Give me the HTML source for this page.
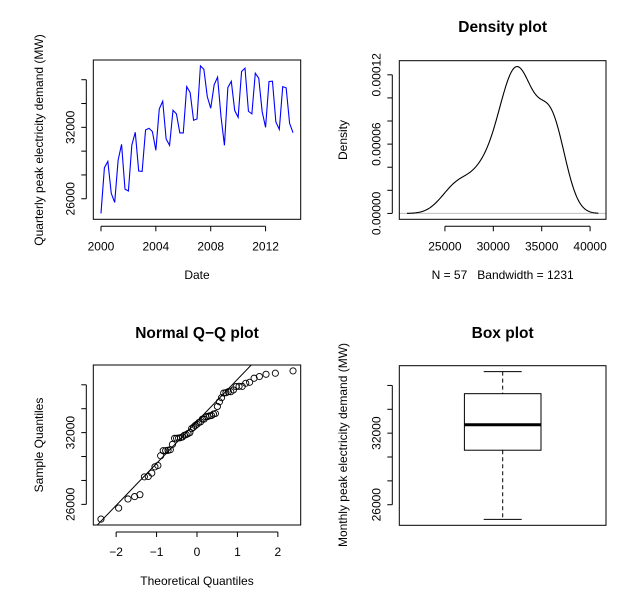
<!DOCTYPE html>
<html><head><meta charset="utf-8">
<style>
html,body{margin:0;padding:0;background:#fff;}
svg{display:block;font-family:"Liberation Sans",Arial,sans-serif;}
svg text{white-space:pre;}
</style></head>
<body>
<svg id="chart" width="642" height="598" viewBox="0 0 642 598" xmlns="http://www.w3.org/2000/svg"></svg>
<script>
const demandValues = [24770,28610,29140,26450,25690,29250,30570,26810,26650,30520,31580,28330,28300,31780,31920,31640,30070,33550,34190,31020,30490,33430,33130,31530,31530,35420,34920,32590,32700,37160,36880,34580,33600,35570,36210,32900,30490,35340,35870,33410,32840,36690,36970,33350,33130,36550,36130,33320,32000,35850,35870,32450,31830,35420,35310,32340,31550];
const startYear = 2000;
const periodsPerYear = 4;
const timeTicks = [2000,2004,2008,2012];
const valueTicks = [26000,28000,30000,32000,34000,36000];
const valueTickLabels = ["26000","","","32000","",""];
const densityXTicks = [25000,30000,35000,40000];
const densityYTicks = [0,0.00002,0.00004,0.00006,0.00008,0.0001,0.00012];
const densityYTickLabels = ["0.00000","","","0.00006","","","0.00012"];
const qqTicks = [-2,-1,0,1,2];
const bandwidth = 1231;

const svg = document.getElementById('chart');
const NS = 'http://www.w3.org/2000/svg';
function el(tag, attrs, parent){
  const e = document.createElementNS(NS, tag);
  for (const k in attrs) e.setAttribute(k, attrs[k]);
  (parent||svg).appendChild(e);
  return e;
}
function txt(str, x, y, opts, parent){
  const t = el('text', {x:x, y:y, 'text-anchor':'middle', 'font-size':opts.size||12, fill:'#000'}, parent);
  if (opts.bold) t.setAttribute('font-weight','bold');
  if (opts.rot) t.setAttribute('transform','rotate(-90 '+x+' '+y+')');
  t.textContent = str;
  return t;
}
function lin(d0,d1,r0,r1){ return v => r0 + (v-d0)/(d1-d0)*(r1-r0); }
function ext(a,b){ const r=b-a; return [a-0.04*r, b+0.04*r]; }

function qnorm(p){
  const a=[-39.69683028665376,220.9460984245205,-275.9285104469687,138.3577518672690,-30.66479806614716,2.506628277459239];
  const b=[-54.47609879822406,161.5858368580409,-155.6989798598866,66.80131188771972,-13.28068155288572];
  const c=[-0.007784894002430293,-0.3223964580411365,-2.400758277161838,-2.549732539343734,4.374664141464968,2.938163982698783];
  const d=[0.007784695709041462,0.3224671290700398,2.445134137142996,3.754408661907416];
  const pl=0.02425;
  let q,r;
  if (p<pl){ q=Math.sqrt(-2*Math.log(p)); return (((((c[0]*q+c[1])*q+c[2])*q+c[3])*q+c[4])*q+c[5])/((((d[0]*q+d[1])*q+d[2])*q+d[3])*q+1); }
  if (p>1-pl){ q=Math.sqrt(-2*Math.log(1-p)); return -(((((c[0]*q+c[1])*q+c[2])*q+c[3])*q+c[4])*q+c[5])/((((d[0]*q+d[1])*q+d[2])*q+d[3])*q+1); }
  q=p-0.5; r=q*q;
  return (((((a[0]*r+a[1])*r+a[2])*r+a[3])*r+a[4])*r+a[5])*q/(((((b[0]*r+b[1])*r+b[2])*r+b[3])*r+b[4])*r+1);
}
function quantile(sorted,p){
  const h=(sorted.length-1)*p, lo=Math.floor(h), hi=Math.ceil(h);
  return sorted[lo]+(h-lo)*(sorted[hi]-sorted[lo]);
}

const n = demandValues.length;
const vmin = Math.min(...demandValues), vmax = Math.max(...demandValues);
const [ylo, yhi] = ext(vmin, vmax);

function box(g,x0,y0,x1,y1){
  el('rect',{x:x0,y:y0,width:x1-x0,height:y1-y0,fill:'none',stroke:'#000','stroke-width':1},g);
}
function xAxis(g, ticks, labels, sx, ybot){
  const a = el('g',{},g);
  
  
  el('line',{x1:sx(ticks[0]),x2:sx(ticks[ticks.length-1]),y1:ybot+7,y2:ybot+7,stroke:'#000'},a);
  ticks.forEach((t,i)=>{
    el('line',{x1:sx(t),x2:sx(t),y1:ybot+7,y2:ybot+12,stroke:'#000'},a);
    const l = txt(labels[i], sx(t), ybot+31, {}, a);
    
    
  });
}
function yAxis(g, ticks, labels, sy, xleft){
  const a = el('g',{},g);
  
  
  el('line',{x1:xleft-7,x2:xleft-7,y1:sy(ticks[0]),y2:sy(ticks[ticks.length-1]),stroke:'#000'},a);
  ticks.forEach((t,i)=>{
    el('line',{x1:xleft-7,x2:xleft-12,y1:sy(t),y2:sy(t),stroke:'#000'},a);
    if (labels[i]){
      const l = txt(labels[i], xleft-19, sy(t), {rot:true}, a);
      
      
    }
  });
}

(function(){
  const g = el('g',{});
  
  
  const X0=93.3,X1=300.7,Y0=60,Y1=219.3;
  const endYear = startYear + (n-1)/periodsPerYear;
  const [xl,xh] = ext(startYear,endYear);
  const sx = lin(xl,xh,X0,X1), sy = lin(ylo,yhi,Y1,Y0);
  const pts = demandValues.map((v,i)=>sx(startYear+i/periodsPerYear).toFixed(2)+','+sy(v).toFixed(2)).join(' ');
  const line = el('polyline',{points:pts,fill:'none',stroke:'#0000ff','stroke-width':1.1},g);
  
  
  box(g,X0,Y0,X1,Y1);
  xAxis(g,timeTicks,timeTicks.map(String),sx,Y1);
  yAxis(g,valueTicks,valueTickLabels,sy,X0);
  const xt = txt('Date',(X0+X1)/2,279,{},g);
  
  
  const yt = txt('Quarterly peak electricity demand (MW)',43,140,{rot:true},g);
  
  
})();

(function(){
  const g = el('g',{});
  
  
  const X0=399.3,X1=606,Y0=60.7,Y1=219.3;
  const gx0 = vmin-3*bandwidth, gx1 = vmax+3*bandwidth;
  const N=256, dx=[], dy=[];
  for (let i=0;i<N;i++){
    const x = gx0+(gx1-gx0)*i/(N-1);
    let s=0;
    for (const v of demandValues){ const z=(x-v)/bandwidth; s+=Math.exp(-0.5*z*z); }
    dx.push(x); dy.push(s/(n*bandwidth*Math.sqrt(2*Math.PI)));
  }
  const [xl,xh] = ext(gx0,gx1);
  const [yl,yh] = ext(0,Math.max(...dy));
  const sx = lin(xl,xh,X0,X1), sy = lin(yl,yh,Y1,Y0);
  const zl = el('line',{x1:X0,x2:X1,y1:sy(0),y2:sy(0),stroke:'#bebebe'},g);
  
  
  const pl = el('polyline',{points:dx.map((x,i)=>sx(x).toFixed(2)+','+sy(dy[i]).toFixed(2)).join(' '),fill:'none',stroke:'#000','stroke-width':1.1},g);
  
  
  box(g,X0,Y0,X1,Y1);
  xAxis(g,densityXTicks,densityXTicks.map(String),sx,Y1);
  yAxis(g,densityYTicks,densityYTickLabels,sy,X0);
  const t = txt('Density plot',(X0+X1)/2,32,{bold:true,size:15.5},g);
  
  
  const xt = txt('N = '+n+'   Bandwidth = '+bandwidth,(X0+X1)/2,279,{},g);
  
  
  const yt = txt('Density',347,140,{rot:true},g);
  
  
})();

(function(){
  const g = el('g',{});
  
  
  const X0=93.3,X1=300.7,Y0=365,Y1=525;
  const sorted = demandValues.slice().sort((a,b)=>a-b);
  const theo = sorted.map((_,i)=>qnorm((i+0.5)/n));
  const [xl,xh] = ext(theo[0],theo[n-1]);
  const sx = lin(xl,xh,X0,X1), sy = lin(ylo,yhi,Y1,Y0);
  const clip = el('clipPath',{id:'qqclip'},g);
  el('rect',{x:X0,y:Y0,width:X1-X0,height:Y1-Y0},clip);
  const q1=quantile(sorted,0.25), q3=quantile(sorted,0.75);
  const z1=qnorm(0.25), z3=qnorm(0.75);
  const slope=(q3-q1)/(z3-z1), icpt=q1-slope*z1;
  const ql = el('line',{x1:sx(xl),y1:sy(icpt+slope*xl),x2:sx(xh),y2:sy(icpt+slope*xh),stroke:'#000','clip-path':'url(#qqclip)'},g);
  
  
  sorted.forEach((v,i)=>{
    const c = el('circle',{cx:sx(theo[i]),cy:sy(v),r:3.1,fill:'none',stroke:'#000','stroke-width':0.9},g);
    
    
  });
  box(g,X0,Y0,X1,Y1);
  xAxis(g,qqTicks,qqTicks.map(t=>t<0?'\u2212'+(-t):String(t)),sx,Y1);
  yAxis(g,valueTicks,valueTickLabels,sy,X0);
  const t = txt('Normal Q\u2212Q plot',(X0+X1)/2,338,{bold:true,size:15.5},g);
  
  
  const xt = txt('Theoretical Quantiles',(X0+X1)/2,585,{},g);
  
  
  const yt = txt('Sample Quantiles',43,445,{rot:true},g);
  
  
})();

(function(){
  const g = el('g',{});
  
  
  const X0=399.3,X1=606,Y0=365.7,Y1=525.3;
  const sorted = demandValues.slice().sort((a,b)=>a-b);
  const sy = lin(ylo,yhi,Y1,Y0);
  const med=quantile(sorted,0.5);
  const q1=(sorted[Math.floor((n+3)/4)-1]+sorted[Math.ceil((n+3)/4)-1])/2;
  const q3=(sorted[n-Math.floor((n+3)/4)]+sorted[n-Math.ceil((n+3)/4)])/2;
  const cx=502.7, bw=38.3, cw=19;
  const wl = el('line',{x1:cx,x2:cx,y1:sy(vmax),y2:sy(q3),stroke:'#000','stroke-dasharray':'4,3'},g);
  
  
  const wl2 = el('line',{x1:cx,x2:cx,y1:sy(q1),y2:sy(vmin),stroke:'#000','stroke-dasharray':'4,3'},g);
  
  
  const c1 = el('line',{x1:cx-cw,x2:cx+cw,y1:sy(vmax),y2:sy(vmax),stroke:'#000'},g);
  
  
  const c2 = el('line',{x1:cx-cw,x2:cx+cw,y1:sy(vmin),y2:sy(vmin),stroke:'#000'},g);
  
  
  const r = el('rect',{x:cx-bw,y:sy(q3),width:2*bw,height:sy(q1)-sy(q3),fill:'#fff',stroke:'#000'},g);
  
  
  const m = el('line',{x1:cx-bw,x2:cx+bw,y1:sy(med),y2:sy(med),stroke:'#000','stroke-width':3},g);
  
  
  box(g,X0,Y0,X1,Y1);
  yAxis(g,valueTicks,valueTickLabels,sy,X0);
  const t = txt('Box plot',(X0+X1)/2,338,{bold:true,size:15.5},g);
  
  
  const yt = txt('Monthly peak electricity demand (MW)',347,445,{rot:true},g);
  
  
})();
</script>
</body></html>
